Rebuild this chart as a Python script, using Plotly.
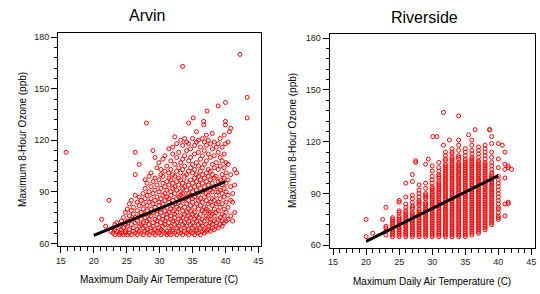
import plotly.graph_objects as go

# ---------------- Arvin data (temperature column -> ozone values) ----------------
arvin_temp = [15.8, 21.2, 21.8, 22.3, 22.6, 22.9, 23.2, 23.5, 23.9, 24.2, 24.5, 24.8,
              25.1, 25.4, 25.7, 26.0, 26.3, 26.6, 26.9, 27.2, 27.5, 27.8, 28.0, 28.1,
              28.4, 28.7, 29.0, 29.3, 29.6, 29.9, 30.2, 30.5, 30.8, 31.1, 31.4, 31.7,
              32.0, 32.3, 32.6, 32.9, 33.2, 33.5, 33.8, 34.1, 34.4, 34.7, 35.0, 35.1,
              35.3, 35.6, 35.9, 36.2, 36.5, 36.7, 36.8, 37.1, 37.2, 37.4, 37.7, 38.0,
              38.3, 38.6, 38.9, 39.2, 39.5, 39.8, 40.0, 40.1, 40.4, 40.6, 40.8, 41.1,
              41.4, 41.7, 42.2, 43.3]
arvin_ozone = [
    [113], [74], [70], [85], [67], [66, 69], [65, 68, 71], [67, 72], [66, 65, 70],
    [68, 73, 66], [65, 69, 75], [67, 71, 78, 66], [65, 70, 73, 80], [68, 66, 76, 83],
    [65, 71, 74, 79, 85], [67, 69, 77, 81], [66, 72, 75, 88, 100, 113],
    [65, 68, 73, 79, 84], [67, 70, 76, 82, 87, 106], [66, 71, 74, 78, 85],
    [65, 69, 72, 80, 83, 89], [67, 70, 75, 77, 86, 92, 97], [130],
    [66, 68, 73, 79, 82, 88, 95], [65, 71, 74, 77, 84, 90, 99],
    [67, 69, 76, 80, 86, 93, 101], [66, 70, 72, 78, 83, 89, 96, 114],
    [65, 68, 74, 81, 85, 91, 98, 110], [67, 71, 73, 77, 79, 87, 94, 104],
    [66, 69, 75, 82, 84, 90, 97, 107], [65, 68, 72, 78, 80, 86, 92, 100, 103],
    [67, 70, 74, 76, 83, 88, 95, 99, 109], [66, 71, 73, 79, 85, 89, 93, 102, 111],
    [65, 67, 75, 77, 81, 87, 91, 96, 105], [66, 69, 72, 78, 84, 86, 94, 98, 101, 115],
    [65, 70, 74, 76, 80, 88, 90, 97, 103, 108],
    [67, 68, 73, 79, 82, 85, 92, 95, 100, 112, 116],
    [66, 71, 75, 77, 83, 89, 93, 99, 106, 122],
    [65, 69, 72, 78, 81, 86, 91, 96, 102, 110, 118],
    [67, 70, 74, 80, 84, 87, 94, 98, 104, 113],
    [66, 68, 73, 76, 82, 88, 90, 97, 101, 107, 120],
    [65, 71, 75, 79, 85, 89, 92, 95, 103, 109, 117, 163],
    [67, 69, 72, 77, 81, 86, 93, 99, 105, 111, 121],
    [66, 70, 74, 78, 83, 87, 91, 96, 100, 114, 119],
    [65, 68, 73, 76, 80, 85, 89, 94, 102, 108, 118, 130],
    [67, 71, 75, 79, 82, 88, 92, 97, 104, 110, 115],
    [66, 69, 72, 77, 84, 86, 90, 95, 101, 106, 121],
    [133],
    [65, 70, 74, 78, 81, 87, 93, 98, 103, 112, 117],
    [67, 68, 73, 76, 83, 89, 91, 96, 100, 107, 119, 125],
    [66, 71, 75, 80, 85, 88, 94, 99, 105, 113, 120],
    [65, 69, 72, 77, 82, 86, 92, 97, 102, 109, 116],
    [67, 70, 74, 79, 84, 90, 95, 100, 104, 111, 121],
    [129, 131],
    [66, 68, 73, 78, 81, 87, 93, 98, 106, 114, 119],
    [67, 71, 76, 80, 85, 89, 96, 101, 108, 117, 123],
    [137],
    [68, 70, 75, 79, 83, 88, 94, 99, 103, 112, 120],
    [67, 72, 74, 78, 84, 91, 97, 102, 110, 118],
    [69, 71, 77, 82, 86, 90, 95, 100, 106, 115, 124],
    [68, 73, 76, 80, 85, 92, 98, 104, 111, 119],
    [70, 72, 78, 83, 88, 93, 99, 107, 116],
    [69, 74, 79, 84, 90, 96, 103, 113, 118, 140],
    [71, 75, 81, 86, 91, 97, 105, 110, 121],
    [70, 73, 77, 83, 89, 94, 100, 108, 116],
    [72, 76, 80, 87, 92, 98, 104, 112, 123],
    [118, 129, 131, 142],
    [73, 78, 84, 90, 95, 101, 107],
    [74, 81, 88, 97, 106, 119],
    [125],
    [76, 85, 93, 100, 127],
    [73, 84, 89],
    [78, 94, 103],
    [101],
    [170],
    [133, 145],
]
arvin_fit_x = [20, 40]
arvin_fit_y = [64.6, 96.0]

# ---------------- Riverside data ----------------
riverside_temp = [20, 21, 22.5, 23, 24, 25, 26, 27, 27.5, 28, 29, 29.4, 30, 30.1, 30.7,
                  31, 31.7, 32, 32.6, 33, 34, 35, 35.5, 36, 36.5, 37, 38, 38.7, 39, 40,
                  40.6, 41, 41.5, 42]
riverside_ozone = [
    [65, 75],
    [67],
    [75],
    [66, 68, 70, 71, 82],
    [65, 66, 67, 68, 69, 70, 71, 72, 73, 74, 75, 76],
    [65, 66, 67, 68, 69, 70, 71, 72, 73, 74, 75, 76, 77, 79, 80, 85, 86],
    [65, 66, 67, 68, 69, 70, 71, 72, 73, 74, 75, 76, 77, 78, 79, 80, 82, 84, 88, 96],
    [65, 66, 67, 68, 69, 70, 71, 72, 73, 74, 75, 76, 77, 78, 79, 81, 82, 83, 85, 87,
     89, 97, 101],
    [108, 109],
    [65, 66, 67, 68, 69, 70, 71, 72, 73, 74, 75, 76, 77, 78, 79, 80, 81, 83, 84, 85,
     86, 88, 90, 92, 95],
    [65, 66, 67, 68, 69, 70, 71, 72, 73, 74, 75, 76, 77, 78, 79, 80, 81, 82, 83, 84,
     85, 87, 88, 89, 90, 93, 96, 107],
    [110],
    [65, 66, 67, 68, 69, 70, 71, 72, 73, 74, 75, 76, 77, 78, 79, 80, 81, 82, 83, 84,
     85, 86, 87, 88, 89, 90, 91, 92, 93, 94, 96, 98, 100, 103, 106],
    [123],
    [123],
    [65, 66, 67, 68, 69, 70, 71, 72, 73, 74, 75, 76, 77, 78, 79, 80, 81, 82, 83, 84,
     85, 86, 87, 88, 89, 90, 91, 92, 93, 94, 95, 96, 97, 99, 100, 101, 103, 105, 108],
    [137, 118],
    [65, 66, 67, 68, 69, 70, 71, 72, 73, 74, 75, 76, 77, 78, 79, 80, 81, 82, 83, 84,
     85, 86, 87, 88, 89, 90, 91, 92, 93, 94, 95, 96, 97, 98, 99, 100, 101, 102, 103,
     104, 105, 106, 107, 109, 110, 112, 114],
    [121],
    [65, 66, 67, 68, 69, 70, 71, 72, 73, 74, 75, 76, 77, 78, 79, 80, 81, 82, 83, 84,
     85, 86, 87, 88, 89, 90, 91, 92, 93, 94, 95, 96, 97, 98, 99, 100, 101, 102, 103,
     104, 105, 106, 107, 108, 109, 110, 111, 113, 114, 116],
    [65, 66, 67, 68, 69, 70, 71, 72, 73, 74, 75, 76, 77, 78, 79, 80, 81, 82, 83, 84,
     85, 86, 87, 88, 89, 90, 91, 92, 93, 94, 95, 96, 97, 98, 99, 100, 101, 102, 103,
     104, 105, 106, 107, 108, 110, 111, 112, 115, 118, 121, 135],
    [65, 66, 67, 68, 69, 70, 71, 72, 73, 74, 75, 76, 77, 78, 79, 80, 81, 82, 83, 84,
     85, 86, 87, 88, 89, 90, 91, 92, 93, 94, 95, 96, 97, 98, 99, 100, 101, 102, 103,
     104, 105, 106, 107, 108, 109, 110, 112, 114, 116],
    [124],
    [66, 67, 68, 69, 70, 71, 72, 73, 74, 75, 76, 77, 78, 79, 80, 81, 82, 83, 84, 85,
     86, 87, 88, 89, 90, 91, 92, 93, 94, 95, 96, 97, 98, 99, 100, 101, 102, 103, 104,
     105, 106, 107, 108, 109, 110, 111, 113, 115, 118, 121],
    [127],
    [67, 68, 69, 70, 71, 72, 73, 74, 75, 76, 77, 78, 79, 80, 81, 82, 83, 84, 85, 86,
     87, 88, 89, 90, 91, 92, 93, 94, 95, 96, 97, 98, 99, 100, 101, 102, 103, 104, 105,
     106, 107, 108, 109, 111, 113, 115, 117],
    [69, 70, 71, 72, 73, 74, 75, 76, 77, 78, 79, 80, 81, 82, 83, 84, 85, 86, 87, 88,
     89, 90, 91, 92, 93, 94, 95, 96, 97, 98, 99, 100, 101, 102, 103, 104, 105, 106,
     107, 108, 110, 112, 114, 116, 118],
    [127, 127],
    [72, 73, 74, 75, 76, 77, 78, 79, 80, 81, 82, 83, 84, 85, 86, 87, 88, 89, 90, 91,
     92, 93, 94, 95, 96, 97, 98, 99, 100, 101, 102, 104, 106, 108, 111, 114, 119, 123],
    [75, 76, 77, 79, 81, 82, 84, 86, 88, 90, 92, 94, 96, 98, 100, 105, 110, 119],
    [118],
    [77, 84, 99, 104, 107, 114],
    [84, 85, 105, 106],
    [104],
]
riverside_fit_x = [20, 40]
riverside_fit_y = [62.3, 100.4]

x_tick_vals = [15, 20, 25, 30, 35, 40, 45]
y_tick_vals = [60, 90, 120, 150, 180]
panel_titles = ["Arvin", "Riverside"]
x_title = "Maximum Daily Air Temperature (C)"
y_title = "Maximum 8-Hour Ozone (ppb)"


def flatten(temps, ozones):
    xs, ys = [], []
    for t, col in zip(temps, ozones):
        xs.extend([t] * len(col))
        ys.extend(col)
    return xs, ys


ax, ay = flatten(arvin_temp, arvin_ozone)
rx, ry = flatten(riverside_temp, riverside_ozone)

W, H = 540, 294
FONT = "Liberation Sans, Arial, sans-serif"

fig = go.Figure()
marker = dict(symbol="circle-open", size=4, color="#ff0000", line=dict(width=1, color="#ff0000"))

fig.add_trace(go.Scatter(x=ax, y=ay, mode="markers", marker=marker, xaxis="x", yaxis="y",
                         showlegend=False, hoverinfo="x+y"))
fig.add_trace(go.Scatter(x=arvin_fit_x, y=arvin_fit_y, mode="lines",
                         line=dict(color="black", width=3), xaxis="x", yaxis="y", showlegend=False))
fig.add_trace(go.Scatter(x=rx, y=ry, mode="markers", marker=marker, xaxis="x2", yaxis="y2",
                         showlegend=False, hoverinfo="x+y"))
fig.add_trace(go.Scatter(x=riverside_fit_x, y=riverside_fit_y, mode="lines",
                         line=dict(color="black", width=3), xaxis="x2", yaxis="y2", showlegend=False))


def xaxis(domain, rng, anchor):
    return dict(domain=domain, range=rng, anchor=anchor, tickmode="array", tickvals=x_tick_vals,
                ticks="outside", ticklen=6, tickwidth=1, tickcolor="black",
                minor=dict(ticks="outside", ticklen=4, tickwidth=1, tickcolor="black", dtick=1, tick0=15,
                           showgrid=False),
                showline=True, mirror=True, linecolor="black", linewidth=1,
                showgrid=False, zeroline=False,
                tickfont=dict(family=FONT, size=9, color="#222"))


def yaxis(domain, rng, anchor):
    return dict(domain=domain, range=rng, anchor=anchor, tickmode="array", tickvals=y_tick_vals,
                ticks="outside", ticklen=6, tickwidth=1, tickcolor="black",
                minor=dict(ticks="outside", ticklen=3, tickwidth=1, tickcolor="black", dtick=6, tick0=60,
                           showgrid=False),
                showline=True, mirror=True, linecolor="black", linewidth=1,
                showgrid=False, zeroline=False,
                tickfont=dict(family=FONT, size=9, color="#222"))


fig.update_layout(
    width=W, height=H,
    margin=dict(l=0, r=0, t=0, b=0),
    paper_bgcolor="white", plot_bgcolor="white",
    font=dict(family=FONT, color="black"),
    xaxis=xaxis([56.5 / W, 261 / W], [14.58, 45.41], "y"),
    yaxis=yaxis([1 - 248.5 / H, 1 - 32.5 / H], [58.4, 182.4], "x"),
    xaxis2=xaxis([330 / W, 536.5 / W], [14.47, 45.48], "y2"),
    yaxis2=yaxis([1 - 250 / H, 1 - 33.3 / H], [58.69, 182.51], "x2"),
)

annots = [
    (146 / W, 1 - 15 / H, panel_titles[0], 16, 0),
    (426 / W, 1 - 16.5 / H, panel_titles[1], 16, 0),
    (158.5 / W, 1 - 282 / H, x_title, 10, 0),
    (433 / W, 1 - 284 / H, x_title, 10, 0),
    (20 / W, 1 - 140 / H, y_title, 10, -90),
    (292 / W, 1 - 141 / H, y_title, 10, -90),
]
for x, y, text, size, ang in annots:
    fig.add_annotation(x=x, y=y, xref="paper", yref="paper", text=text, showarrow=False,
                       xanchor="center", yanchor="middle", textangle=ang,
                       font=dict(family=FONT, size=size, color="black"))

fig.write_html("out.html", config={"displayModeBar": False},
               post_script="document.body.style.margin='0';document.body.style.overflow='hidden';")
